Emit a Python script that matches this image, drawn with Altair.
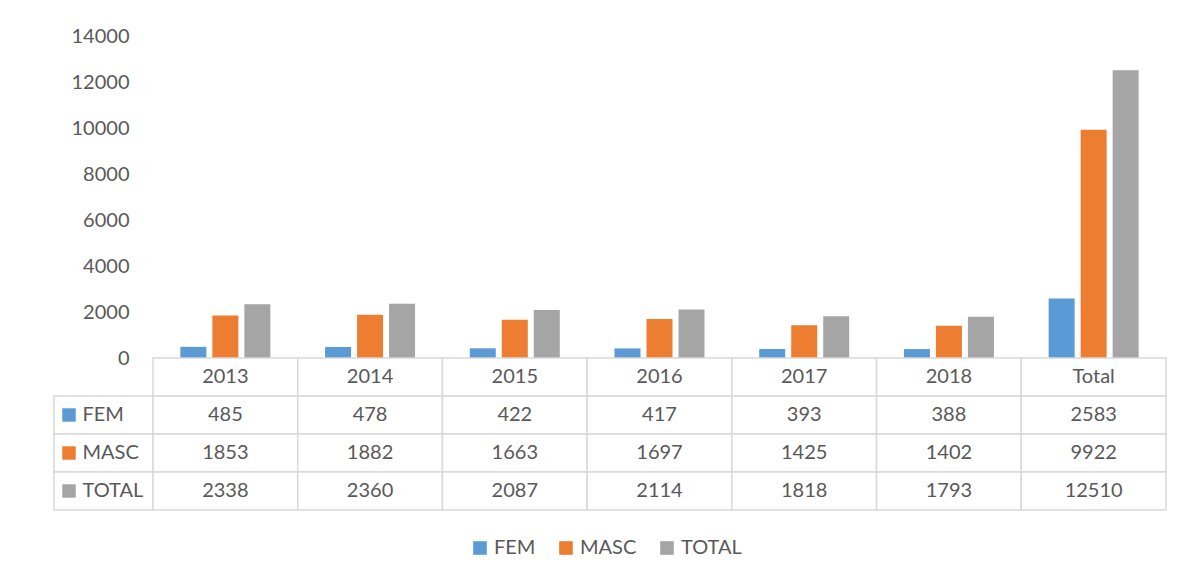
import altair as alt
import pandas as pd

categories = ["2013", "2014", "2015", "2016", "2017", "2018", "Total"]
series = ["FEM", "MASC", "TOTAL"]
fem = [485, 478, 422, 417, 393, 388, 2583]
masc = [1853, 1882, 1663, 1697, 1425, 1402, 9922]
total = [2338, 2360, 2087, 2114, 1818, 1793, 12510]
colors = ["#5B9BD5", "#ED7D31", "#A5A5A5"]
y_ticks = [0, 2000, 4000, 6000, 8000, 10000, 12000, 14000]
row_order = ["header", "FEM", "MASC", "TOTAL"]

FONT = "Lato"
TXT = "#595959"
GRID = "#D9D9D9"
FS = 20

rows = []
for s, vals in zip(series, [fem, masc, total]):
    for c, v in zip(categories, vals):
        rows.append({"category": c, "series": s, "value": v, "label": str(v), "row": s})
df = pd.DataFrame(rows)

header_df = pd.DataFrame({"category": categories, "row": "header", "label": categories})
cells_df = pd.concat([header_df, df[["category", "row", "label"]]], ignore_index=True)
lab_df = pd.DataFrame({"series": series, "row": series})

color_scale = alt.Scale(domain=series, range=colors)
xcat = alt.X("category:N", sort=categories,
             scale=alt.Scale(domain=categories, paddingInner=0, paddingOuter=0), axis=None)
yrow = alt.Y("row:N", sort=row_order,
             scale=alt.Scale(domain=row_order, paddingInner=0, paddingOuter=0), axis=None)

W_LAB, W_MAIN, H_TOP, H_TAB = 99, 1013, 322, 152

spacer = alt.Chart(lab_df).mark_text(opacity=0).encode(
    text=alt.value("")
).properties(width=W_LAB, height=H_TOP)

bars = alt.Chart(df).mark_bar().encode(
    x=xcat,
    xOffset=alt.XOffset("series:N", sort=series,
                        scale=alt.Scale(domain=series, paddingInner=0.1875, paddingOuter=0.855)),
    y=alt.Y("value:Q", scale=alt.Scale(domain=[0, 14000], nice=False),
            axis=alt.Axis(values=y_ticks, grid=False, domain=False, ticks=False,
                          labelPadding=24, labelFontSize=FS, labelFont=FONT,
                          labelColor=TXT, title=None, format="d")),
    color=alt.Color("series:N", sort=series, scale=color_scale,
                    legend=alt.Legend(orient="none", direction="horizontal", title=None,
                                      legendX=416, legendY=502, padding=0,
                                      symbolType="square",
                                      symbolSize=185, symbolStrokeWidth=0,
                                      labelFontSize=FS, labelFont=FONT, labelColor=TXT,
                                      labelOffset=4, columnPadding=20)),
).properties(width=W_MAIN, height=H_TOP)

lab_rect = alt.Chart(lab_df).mark_rect(fill="white", stroke=GRID, strokeWidth=1.5).encode(y=yrow)
lab_sq = alt.Chart(lab_df).mark_square(size=180, xOffset=-34.5, opacity=1).encode(
    y=yrow, color=alt.Color("series:N", scale=color_scale, legend=None))
lab_txt = alt.Chart(lab_df).mark_text(align="left", dx=-21, fontSize=FS, font=FONT, color=TXT).encode(
    y=yrow, text="series:N")
labels = alt.layer(lab_rect, lab_sq, lab_txt).properties(width=W_LAB, height=H_TAB)

cell_rect = alt.Chart(cells_df).mark_rect(fill="white", stroke=GRID, strokeWidth=1.5).encode(x=xcat, y=yrow)
cell_txt = alt.Chart(cells_df).mark_text(fontSize=FS, font=FONT, color=TXT).encode(
    x=xcat, y=yrow, text="label:N")
cells = alt.layer(cell_rect, cell_txt).properties(width=W_MAIN, height=H_TAB)

chart = alt.concat(spacer, bars, labels, cells, columns=2, spacing=0, bounds="flush").properties(
    padding={"left": 45, "top": 18, "right": 5, "bottom": 5},
    background="white",
).configure_view(stroke=None).resolve_scale(color="shared")

chart.save("out.html", embed_options={"renderer": "svg", "actions": False})
